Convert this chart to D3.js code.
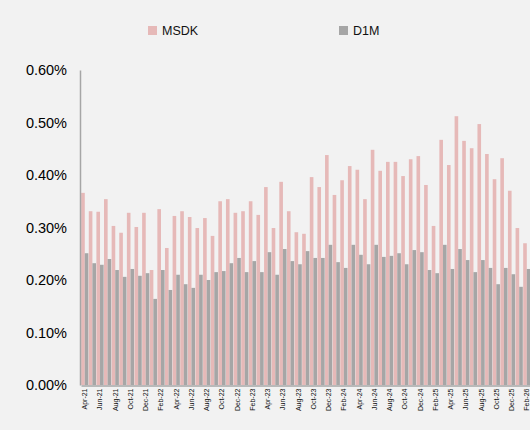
<!DOCTYPE html>
<html>
<head>
<meta charset="utf-8">
<script src="https://cdn.jsdelivr.net/npm/d3@7/dist/d3.min.js"></script>
<style>
  body { margin: 0; background: #f2f2f2; }
  svg { display: block; }
</style>
</head>
<body>
<div id="chartContainer"></div>
<script>
// months shown on the x axis
const months = [
  "Apr-21","May-21","Jun-21","Jul-21","Aug-21","Sep-21","Oct-21","Nov-21","Dec-21",
  "Jan-22","Feb-22","Mar-22","Apr-22","May-22","Jun-22","Jul-22","Aug-22","Sep-22","Oct-22","Nov-22","Dec-22",
  "Jan-23","Feb-23","Mar-23","Apr-23","May-23","Jun-23","Jul-23","Aug-23","Sep-23","Oct-23","Nov-23","Dec-23",
  "Jan-24","Feb-24","Mar-24","Apr-24","May-24","Jun-24","Jul-24","Aug-24","Sep-24","Oct-24","Nov-24","Dec-24",
  "Jan-25","Feb-25","Mar-25","Apr-25","May-25","Jun-25","Jul-25","Aug-25","Sep-25","Oct-25","Nov-25","Dec-25",
  "Jan-26","Feb-26"
];

// values in percent
const msdk = [
  0.366, 0.331, 0.330, 0.354, 0.303, 0.290, 0.328, 0.301, 0.328,
  0.219, 0.335, 0.261, 0.322, 0.331, 0.320, 0.299, 0.318, 0.284, 0.350, 0.354, 0.328,
  0.331, 0.350, 0.324, 0.377, 0.299, 0.387, 0.331, 0.291, 0.288, 0.396, 0.377, 0.438,
  0.362, 0.390, 0.417, 0.410, 0.354, 0.448, 0.408, 0.425, 0.425, 0.398, 0.430, 0.436,
  0.381, 0.303, 0.467, 0.419, 0.512, 0.465, 0.451, 0.497, 0.440, 0.392, 0.432, 0.370,
  0.299, 0.270
];
const d1m = [
  0.251, 0.232, 0.229, 0.240, 0.219, 0.206, 0.221, 0.208, 0.213,
  0.164, 0.219, 0.181, 0.210, 0.192, 0.185, 0.210, 0.200, 0.215, 0.217, 0.232, 0.242,
  0.215, 0.236, 0.215, 0.253, 0.210, 0.259, 0.236, 0.230, 0.255, 0.242, 0.242, 0.267,
  0.234, 0.223, 0.267, 0.248, 0.230, 0.267, 0.244, 0.246, 0.251, 0.230, 0.257, 0.253,
  0.219, 0.213, 0.267, 0.221, 0.259, 0.238, 0.215, 0.238, 0.223, 0.192, 0.223, 0.211,
  0.187, 0.221
];
const seriesNames = ["MSDK", "D1M"];
const yTicks = [0, 0.1, 0.2, 0.3, 0.4, 0.5, 0.6];

const pink = "#e6b9b8",
  grey = "#a6a6a6",
  width = 530,
  height = 430;

const svg = d3
  .select("#chartContainer")
  .append("svg")
  .attr("width", width)
  .attr("height", height);

const data = months.map((m, i) => ({ month: m, MSDK: msdk[i], D1M: d1m[i] }));

// scales
const x0 = d3.scaleBand().domain(months).range([81, 81 + months.length * 7.62]).paddingInner(0.05).paddingOuter(0.02);
const x1 = d3.scaleBand().domain(seriesNames).range([0, x0.bandwidth()]);
const y = d3.scaleLinear().domain([0, 0.6]).range([385, 70]);
const color = d3.scaleOrdinal().domain(seriesNames).range([pink, grey]);

// bars
svg
  .append("g")
  .selectAll("g")
  .data(data)
  .enter()
  .append("g")
  .attr("transform", (d) => "translate(" + x0(d.month) + ",0)")
  .selectAll("rect")
  .data((d) => seriesNames.map((k) => ({ key: k, value: d[k] })))
  .enter()
  .append("rect")
  .attr("x", (d) => x1(d.key))
  .attr("y", (d) => y(d.value))
  .attr("width", x1.bandwidth())
  .attr("height", (d) => y(0) - y(d.value))
  .style("fill", (d) => color(d.key));

// Y axis
const yAxis = svg
  .append("g")
  .attr("transform", "translate(80,0)")
  .call(d3.axisLeft(y).tickValues(yTicks).tickSize(0).tickPadding(13).tickFormat((d) => d3.format(".2f")(d) + "%"));
yAxis.select(".domain").attr("stroke", grey).attr("stroke-width", 1.5);
yAxis.selectAll("text").style("font-family", "Liberation Sans, Arial, sans-serif").style("font-size", "14.5px").attr("fill", "#000");

// X axis
const xAxis = svg
  .append("g")
  .attr("transform", "translate(0,385.5)")
  .call(d3.axisBottom(x0).tickValues(months.filter((m, i) => i % 2 === 0)).tickSize(0).tickPadding(3));
xAxis.select(".domain").attr("stroke", grey).attr("stroke-width", 1.5);
xAxis
  .selectAll("text")
  .style("font-family", "Liberation Sans, Arial, sans-serif")
  .style("font-size", "7px")
  .attr("fill", "#111")
  .attr("transform", "rotate(-90)")
  .attr("text-anchor", "end")
  .attr("x", -3)
  .attr("y", 0)
  .attr("dy", "0.35em");

// legend
const legend = svg.append("g").attr("id", "legend");
const legendX = [148, 339];
seriesNames.forEach((k, i) => {
  legend.append("rect").attr("x", legendX[i]).attr("y", 26).attr("width", 9).attr("height", 9).style("fill", color(k));
  legend
    .append("text")
    .attr("x", legendX[i] + 14)
    .attr("y", 35)
    .text(k)
    .style("font-family", "Liberation Sans, Arial, sans-serif")
    .style("font-size", "12.5px")
    .attr("fill", "#111");
});
</script>
</body>
</html>
